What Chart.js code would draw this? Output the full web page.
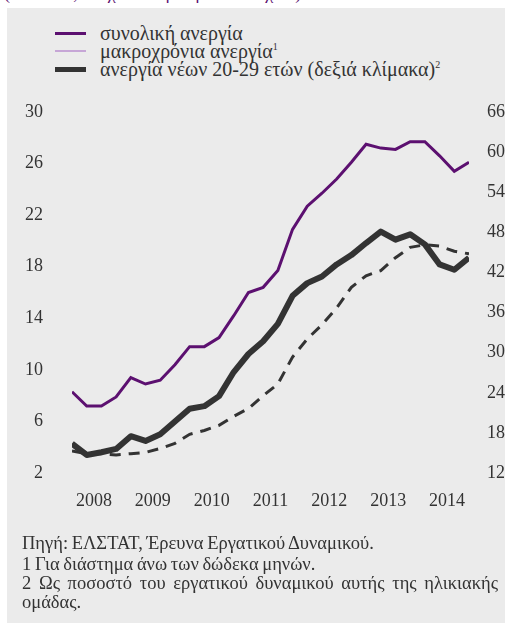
<!DOCTYPE html>
<html>
<head>
<meta charset="utf-8">
<style>
  body { margin: 0; width: 513px; height: 623px; position: relative; background: #fff; overflow: hidden; color: #333; }
  .leg, #foot, #top span { font-family: 'Liberation Serif', 'Times New Roman', serif; }
  #top { position: absolute; left: 0; top: 0; width: 513px; height: 8px; overflow: hidden; }
  #top span { position: absolute; left: 4px; top: -17px; font-size: 18px; color: #5c1070; white-space: nowrap; }
  #panel { position: absolute; left: 7px; top: 8px; width: 498px; height: 615px; background: #ebebeb; }
  #myChart { position: absolute; left: 0; top: 0; }
  .leg { position: absolute; left: 55px; height: 20px; font-size: 20px; line-height: 20px; white-space: nowrap; }
  .leg i { position: absolute; left: 0; width: 31px; }
  .leg span { position: absolute; left: 45px; top: 0; }
  .leg sup { font-size: 10px; vertical-align: 8px; line-height: 0; }
  #foot { position: absolute; left: 22px; top: 533px; width: 476px; font-size: 18.5px; line-height: 20.5px; }
  #foot .t { word-spacing: -1px; }
  #foot .j { text-align: justify; text-align-last: left; line-height: 19px; }
</style>
</head>
<body>
<div id="top"><span>(ποσοστά, εποχικά διορθωμένα στοιχεία)</span></div>
<div id="panel"></div>

<div class="leg" style="top:23px"><i style="top:9px;height:3px;background:#5c1070"></i><span>συνολική ανεργία</span></div>
<div class="leg" style="top:41px"><i style="top:9px;height:2px;background:#c6a6d6"></i><span>μακροχρόνια ανεργία<sup>1</sup></span></div>
<div class="leg" style="top:59px"><i style="top:8px;height:5px;background:#333"></i><span>ανεργία νέων 20-29 ετών (δεξιά κλίμακα)<sup>2</sup></span></div>

<canvas id="myChart" width="513" height="623"></canvas>

<div id="foot">
  <div class="t">Πηγή: ΕΛΣΤΑΤ, Έρευνα Εργατικού Δυναμικού.</div>
  <div class="t">1 Για διάστημα άνω των δώδεκα μηνών.</div>
  <div class="j">2 Ως ποσοστό του εργατικού δυναμικού αυτής της ηλικιακής ομάδας.</div>
</div>

<script src="https://cdn.jsdelivr.net/npm/chart.js"></script>
<script>
  // quarterly, 2008Q1 .. 2014Q4
  var years = [2008, 2009, 2010, 2011, 2012, 2013, 2014]
  var leftTicks = [2, 6, 10, 14, 18, 22, 26, 30]
  var rightTicks = [12, 18, 24, 30, 36, 42, 48, 54, 60, 66]

  var total = [8.3, 7.2, 7.2, 7.9, 9.4, 8.9, 9.2, 10.4,
               11.8, 11.8, 12.5, 14.2, 16.0, 16.4, 17.7, 20.9,
               22.7, 23.7, 24.8, 26.1, 27.5, 27.2, 27.1, 27.7,
               27.7, 26.6, 25.4, 26.1]
  var longTerm = [3.7, 3.5, 3.5, 3.4, 3.5, 3.6, 3.9, 4.3,
                  5.0, 5.3, 5.7, 6.4, 7.0, 8.0, 8.9, 11.0,
                  12.4, 13.5, 14.8, 16.4, 17.3, 17.7, 18.7, 19.5,
                  19.7, 19.6, 19.2, 19.0]
  var youth = [16.4, 14.7, 15.1, 15.6, 17.5, 16.8, 17.8, 19.7,
               21.6, 22.0, 23.5, 27.1, 29.8, 31.7, 34.3, 38.5,
               40.4, 41.4, 43.2, 44.6, 46.4, 48.1, 46.9, 47.7,
               46.2, 43.2, 42.4, 44.2]

  function pts(arr) {
    return arr.map((v, i) => ({ x: i, y: v }))
  }

  Chart.defaults.font.family = "'Liberation Serif', 'Times New Roman', serif"
  var tickFont = { family: "'Liberation Serif', 'Times New Roman', serif", size: 18 }
  var noGrid = { display: false, drawTicks: false }
  const ctx = document.getElementById('myChart');

  new Chart(ctx, {
    type: 'line',
    data: {
      datasets: [{
        label: 'ανεργία νέων 20-29 ετών',
        data: pts(youth),
        yAxisID: 'y2',
        borderColor: '#333333',
        borderWidth: 6,
        pointRadius: 0,
        tension: 0,
        borderJoinStyle: 'round'
      }, {
        label: 'μακροχρόνια ανεργία',
        data: pts(longTerm),
        yAxisID: 'y',
        borderColor: '#333333',
        borderWidth: 3,
        borderDash: [11, 8],
        pointRadius: 0,
        tension: 0
      }, {
        label: 'συνολική ανεργία',
        data: pts(total),
        yAxisID: 'y',
        borderColor: '#5c1070',
        borderWidth: 3,
        pointRadius: 0,
        tension: 0
      }]
    },
    options: {
      responsive: false,
      animation: false,
      devicePixelRatio: 1,
      layout: { padding: { top: 112, left: 0, right: 0, bottom: 0 } },
      plugins: { legend: { display: false }, tooltip: { enabled: false } },
      scales: {
        x: {
          type: 'linear',
          min: 0,
          max: total.length - 1,
          grid: noGrid,
          border: { display: false },
          afterBuildTicks: function(scale) {
            scale.ticks = years.map((y, k) => ({ value: 1.5 + 4 * k }))
          },
          afterFit: function(scale) { scale.height = 150 },
          ticks: {
            font: tickFont,
            color: '#333',
            padding: 17,
            maxRotation: 0,
            autoSkip: false,
            callback: function(value) {
              return String(years[Math.round((value - 1.5) / 4)])
            }
          }
        },
        y: {
          position: 'left',
          min: 2,
          max: 30,
          grid: noGrid,
          border: { display: false },
          afterBuildTicks: function(scale) {
            scale.ticks = leftTicks.map(v => ({ value: v }))
          },
          afterFit: function(scale) { scale.width = 72 },
          ticks: { font: tickFont, color: '#333', padding: 29 }
        },
        y2: {
          position: 'right',
          min: 12,
          max: 66,
          grid: noGrid,
          border: { display: false },
          afterBuildTicks: function(scale) {
            scale.ticks = rightTicks.map(v => ({ value: v }))
          },
          afterFit: function(scale) { scale.width = 44 },
          ticks: { font: tickFont, color: '#333', padding: 18 }
        }
      }
    }
  });
</script>
</body>
</html>
